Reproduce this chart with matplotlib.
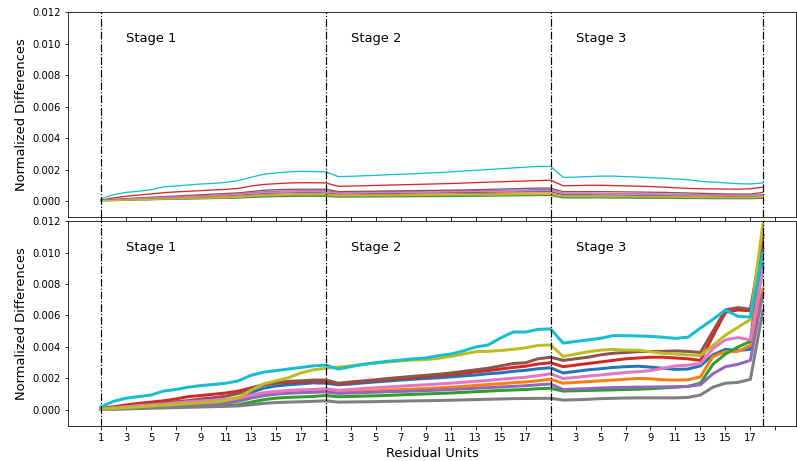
import numpy as np
import matplotlib
matplotlib.use('Agg')
import matplotlib.pyplot as plt
from matplotlib.ticker import FormatStrFormatter

# values are in units of 1e-3, one per residual unit (3 stages x 18 units)
stage_names = ['Stage 1', 'Stage 2', 'Stage 3']
stage_starts = [0, 18, 36]
tick_labels = [str(k) for k in range(1, 18, 2)] * 3 + ['']

# upper panel (thin lines)
top_blue = [0.03, 0.06, 0.09, 0.12, 0.15, 0.18, 0.21, 0.24, 0.27, 0.3, 0.33, 0.37, 0.42, 0.47, 0.5, 0.52, 0.53, 0.53,
            0.52, 0.44, 0.45, 0.46, 0.47, 0.48, 0.49, 0.5, 0.51, 0.52, 0.53, 0.54, 0.55, 0.56, 0.57, 0.58, 0.59, 0.6,
            0.6, 0.4, 0.4, 0.4, 0.39, 0.38, 0.37, 0.36, 0.35, 0.34, 0.33, 0.32, 0.31, 0.3, 0.3, 0.29, 0.29, 0.33]
top_orange = [0.03, 0.05, 0.08, 0.11, 0.13, 0.16, 0.19, 0.21, 0.24, 0.26, 0.29, 0.32, 0.37, 0.41, 0.44, 0.45, 0.46, 0.46,
              0.45, 0.38, 0.39, 0.4, 0.41, 0.42, 0.43, 0.43, 0.44, 0.45, 0.46, 0.47, 0.47, 0.48, 0.49, 0.5, 0.5, 0.51,
              0.51, 0.33, 0.33, 0.33, 0.32, 0.32, 0.31, 0.3, 0.3, 0.29, 0.28, 0.27, 0.27, 0.26, 0.25, 0.25, 0.25, 0.28]
top_green = [0.02, 0.03, 0.05, 0.07, 0.08, 0.1, 0.11, 0.13, 0.14, 0.16, 0.17, 0.19, 0.23, 0.26, 0.28, 0.29, 0.3, 0.3,
             0.3, 0.25, 0.25, 0.26, 0.26, 0.27, 0.27, 0.28, 0.28, 0.29, 0.29, 0.3, 0.3, 0.31, 0.32, 0.33, 0.34, 0.35,
             0.35, 0.2, 0.2, 0.2, 0.2, 0.19, 0.19, 0.18, 0.18, 0.17, 0.17, 0.16, 0.16, 0.15, 0.15, 0.15, 0.15, 0.17]
top_red = [0.05, 0.2, 0.3, 0.38, 0.45, 0.53, 0.58, 0.62, 0.66, 0.7, 0.74, 0.8, 0.95, 1.05, 1.1, 1.14, 1.16, 1.16,
           1.15, 0.93, 0.95, 0.97, 0.99, 1.01, 1.03, 1.05, 1.07, 1.09, 1.11, 1.14, 1.17, 1.2, 1.22, 1.25, 1.27, 1.3,
           1.32, 0.97, 0.98, 1.0, 1.0, 0.98, 0.96, 0.94, 0.92, 0.88, 0.84, 0.8, 0.78, 0.77, 0.76, 0.75, 0.78, 0.88]
top_purple = [0.04, 0.08, 0.12, 0.16, 0.2, 0.24, 0.28, 0.31, 0.34, 0.37, 0.4, 0.44, 0.52, 0.58, 0.62, 0.64, 0.65, 0.65,
              0.65, 0.55, 0.56, 0.57, 0.58, 0.59, 0.6, 0.61, 0.62, 0.63, 0.64, 0.65, 0.66, 0.67, 0.68, 0.69, 0.7, 0.72,
              0.72, 0.5, 0.5, 0.5, 0.49, 0.48, 0.47, 0.46, 0.45, 0.44, 0.43, 0.42, 0.41, 0.4, 0.39, 0.38, 0.38, 0.42]
top_brown = [0.05, 0.1, 0.15, 0.2, 0.24, 0.28, 0.32, 0.36, 0.4, 0.44, 0.48, 0.52, 0.6, 0.68, 0.72, 0.74, 0.75, 0.75,
             0.75, 0.6, 0.61, 0.62, 0.63, 0.64, 0.65, 0.66, 0.67, 0.68, 0.69, 0.7, 0.72, 0.74, 0.76, 0.78, 0.8, 0.82,
             0.82, 0.6, 0.6, 0.6, 0.6, 0.59, 0.58, 0.57, 0.56, 0.55, 0.53, 0.51, 0.49, 0.47, 0.45, 0.44, 0.44, 0.55]
top_pink = [0.04, 0.07, 0.11, 0.15, 0.19, 0.22, 0.26, 0.29, 0.32, 0.35, 0.38, 0.42, 0.48, 0.53, 0.56, 0.58, 0.59, 0.59,
            0.58, 0.5, 0.51, 0.52, 0.53, 0.54, 0.55, 0.56, 0.57, 0.58, 0.59, 0.6, 0.61, 0.62, 0.63, 0.64, 0.65, 0.66,
            0.66, 0.47, 0.47, 0.47, 0.46, 0.45, 0.44, 0.43, 0.42, 0.41, 0.4, 0.39, 0.38, 0.37, 0.36, 0.35, 0.35, 0.4]
top_gray = [0.02, 0.04, 0.06, 0.08, 0.1, 0.12, 0.13, 0.15, 0.17, 0.19, 0.2, 0.23, 0.27, 0.31, 0.33, 0.34, 0.35, 0.35,
            0.35, 0.3, 0.3, 0.31, 0.31, 0.32, 0.33, 0.33, 0.34, 0.35, 0.35, 0.36, 0.37, 0.37, 0.38, 0.39, 0.4, 0.4,
            0.4, 0.25, 0.25, 0.25, 0.24, 0.24, 0.23, 0.22, 0.22, 0.21, 0.2, 0.2, 0.19, 0.19, 0.18, 0.18, 0.18, 0.2]
top_olive = [0.02, 0.04, 0.06, 0.08, 0.1, 0.12, 0.14, 0.16, 0.18, 0.2, 0.22, 0.25, 0.3, 0.35, 0.38, 0.39, 0.4, 0.4,
             0.4, 0.33, 0.34, 0.34, 0.35, 0.35, 0.36, 0.36, 0.37, 0.37, 0.38, 0.38, 0.39, 0.39, 0.4, 0.41, 0.42, 0.42,
             0.42, 0.29, 0.29, 0.29, 0.28, 0.28, 0.27, 0.27, 0.26, 0.25, 0.25, 0.24, 0.23, 0.23, 0.22, 0.22, 0.22, 0.25]
top_cyan = [0.15, 0.4, 0.55, 0.62, 0.72, 0.9, 0.95, 1.02, 1.08, 1.12, 1.18, 1.3, 1.5, 1.7, 1.78, 1.85, 1.88, 1.87,
            1.85, 1.55, 1.57, 1.6, 1.63, 1.67, 1.7, 1.73, 1.77, 1.8, 1.85, 1.9, 1.95, 2.0, 2.05, 2.1, 2.15, 2.2,
            2.2, 1.5, 1.52, 1.55, 1.58, 1.58, 1.55, 1.52, 1.48, 1.45, 1.4, 1.35, 1.25, 1.2, 1.15, 1.1, 1.08, 1.15]

# lower panel (thick lines)
bot_blue = [0.08, 0.12, 0.17, 0.22, 0.27, 0.32, 0.38, 0.44, 0.5, 0.55, 0.62, 0.75, 1.1, 1.38, 1.52, 1.6, 1.66, 1.72,
            1.7, 1.6, 1.65, 1.72, 1.78, 1.84, 1.9, 1.95, 2.0, 2.04, 2.1, 2.16, 2.22, 2.3, 2.36, 2.45, 2.52, 2.62,
            2.68, 2.35, 2.45, 2.55, 2.62, 2.7, 2.75, 2.78, 2.72, 2.65, 2.58, 2.6, 2.8, 3.5, 3.85, 3.78, 3.85, 9.3]
bot_orange = [0.06, 0.1, 0.15, 0.2, 0.25, 0.3, 0.35, 0.4, 0.45, 0.5, 0.55, 0.65, 0.85, 1.0, 1.08, 1.14, 1.18, 1.2,
              1.22, 1.1, 1.14, 1.18, 1.22, 1.26, 1.3, 1.33, 1.36, 1.4, 1.45, 1.5, 1.56, 1.62, 1.67, 1.73, 1.78, 1.86,
              1.95, 1.7, 1.75, 1.8, 1.85, 1.9, 1.95, 2.0, 1.98, 1.92, 1.9, 1.92, 2.1, 3.4, 3.7, 3.72, 4.1, 7.7]
bot_green = [0.04, 0.06, 0.09, 0.12, 0.15, 0.18, 0.2, 0.22, 0.25, 0.28, 0.3, 0.33, 0.5, 0.65, 0.75, 0.8, 0.83, 0.86,
             0.92, 0.84, 0.86, 0.88, 0.9, 0.93, 0.96, 0.99, 1.02, 1.05, 1.08, 1.12, 1.16, 1.2, 1.24, 1.27, 1.3, 1.35,
             1.38, 1.2, 1.22, 1.24, 1.26, 1.28, 1.3, 1.32, 1.35, 1.4, 1.45, 1.5, 1.7, 2.9, 3.55, 4.0, 4.35, 11.0]
bot_red = [0.1, 0.2, 0.32, 0.42, 0.5, 0.58, 0.7, 0.85, 0.92, 1.0, 1.08, 1.2, 1.4, 1.6, 1.7, 1.75, 1.78, 1.82,
           1.8, 1.65, 1.72, 1.8, 1.87, 1.93, 2.0, 2.06, 2.12, 2.18, 2.25, 2.33, 2.42, 2.5, 2.6, 2.7, 2.78, 2.92,
           3.0, 2.75, 2.85, 2.95, 3.05, 3.15, 3.25, 3.3, 3.35, 3.35, 3.3, 3.25, 3.15, 4.7, 6.2, 6.35, 6.3, 11.1]
bot_purple = [0.05, 0.08, 0.12, 0.16, 0.2, 0.24, 0.28, 0.32, 0.36, 0.4, 0.45, 0.55, 0.75, 0.9, 1.0, 1.06, 1.1, 1.12,
              1.15, 1.05, 1.08, 1.1, 1.13, 1.16, 1.18, 1.2, 1.23, 1.26, 1.3, 1.34, 1.38, 1.42, 1.46, 1.5, 1.54, 1.6,
              1.65, 1.3, 1.33, 1.36, 1.4, 1.42, 1.44, 1.45, 1.46, 1.47, 1.48, 1.5, 1.6, 2.3, 2.75, 2.9, 3.15, 7.4]
bot_brown = [0.1, 0.15, 0.22, 0.3, 0.38, 0.45, 0.52, 0.6, 0.7, 0.78, 0.88, 1.05, 1.3, 1.6, 1.75, 1.82, 1.85, 1.9,
             1.9, 1.7, 1.78, 1.85, 1.92, 2.0, 2.07, 2.14, 2.2, 2.27, 2.35, 2.45, 2.55, 2.65, 2.8, 2.95, 3.0, 3.25,
             3.35, 3.15, 3.25, 3.35, 3.5, 3.6, 3.65, 3.7, 3.72, 3.72, 3.75, 3.72, 3.65, 5.0, 6.35, 6.5, 6.4, 10.2]
bot_pink = [0.08, 0.13, 0.2, 0.28, 0.33, 0.38, 0.45, 0.52, 0.57, 0.62, 0.68, 0.78, 0.95, 1.1, 1.18, 1.24, 1.28, 1.3,
            1.35, 1.25, 1.3, 1.36, 1.41, 1.46, 1.51, 1.56, 1.6, 1.65, 1.7, 1.76, 1.82, 1.88, 1.95, 2.02, 2.08, 2.18,
            2.3, 2.0, 2.07, 2.15, 2.22, 2.3, 2.38, 2.43, 2.5, 2.65, 2.8, 2.85, 2.95, 3.9, 4.45, 4.6, 4.45, 9.0]
bot_gray = [0.03, 0.05, 0.07, 0.09, 0.11, 0.13, 0.15, 0.17, 0.19, 0.21, 0.23, 0.26, 0.33, 0.42, 0.47, 0.5, 0.52, 0.55,
            0.58, 0.5, 0.51, 0.52, 0.53, 0.55, 0.56, 0.58, 0.59, 0.6, 0.62, 0.64, 0.66, 0.68, 0.7, 0.72, 0.73, 0.74,
            0.74, 0.63, 0.65, 0.68, 0.72, 0.74, 0.76, 0.77, 0.77, 0.77, 0.77, 0.8, 0.95, 1.45, 1.7, 1.75, 1.95, 6.3]
bot_olive = [0.05, 0.1, 0.15, 0.2, 0.25, 0.3, 0.35, 0.4, 0.45, 0.5, 0.6, 0.8, 1.25, 1.65, 1.85, 2.05, 2.35, 2.55,
             2.65, 2.72, 2.8, 2.9, 2.98, 3.05, 3.12, 3.17, 3.2, 3.28, 3.4, 3.55, 3.7, 3.72, 3.78, 3.85, 3.95, 4.1,
             4.13, 3.4, 3.55, 3.7, 3.8, 3.85, 3.8, 3.8, 3.7, 3.6, 3.55, 3.5, 3.45, 4.1, 4.75, 5.25, 5.75, 11.8]
bot_cyan = [0.2, 0.55, 0.75, 0.85, 0.95, 1.2, 1.3, 1.45, 1.55, 1.62, 1.7, 1.85, 2.2, 2.4, 2.5, 2.6, 2.7, 2.8,
            2.85, 2.6, 2.75, 2.9, 3.0, 3.1, 3.17, 3.25, 3.3, 3.45, 3.55, 3.75, 4.0, 4.13, 4.57, 4.95, 4.95, 5.12,
            5.15, 4.25, 4.35, 4.45, 4.55, 4.72, 4.72, 4.7, 4.68, 4.62, 4.55, 4.62, 5.2, 5.75, 6.35, 5.95, 5.9, 9.95]

top_series = [top_blue, top_orange, top_green, top_red, top_purple,
              top_brown, top_pink, top_gray, top_olive, top_cyan]
bot_series = [bot_blue, bot_orange, bot_green, bot_red, bot_purple,
              bot_brown, bot_pink, bot_gray, bot_olive, bot_cyan]

units = np.arange(len(bot_blue))

fig = plt.figure(figsize=(797 / 72, 461 / 72), dpi=72)
ax_top = fig.add_axes([0.0853, 0.5298, 0.9134, 0.4441])
ax_bot = fig.add_axes([0.0853, 0.0765, 0.9134, 0.4441])

for ax, series, lw in ((ax_top, top_series, 1.3), (ax_bot, bot_series, 3)):
    for s in series:
        ax.plot(units, np.array(s) * 1e-3, lw=lw)
    for x in stage_starts + [units[-1]]:
        ax.axvline(x, color='k', ls='-.', lw=1.2)
    for x, name in zip(stage_starts, stage_names):
        ax.text(x + 2, 0.0103, name, fontsize=13, va='center')
    ax.set_ylim(-0.001, 0.012)
    ax.set_xlim(-2.65, 55.65)
    ax.set_xticks(range(0, 55, 2))
    ax.set_yticks(np.arange(0, 0.0121, 0.002))
    ax.yaxis.set_major_formatter(FormatStrFormatter('%.3f'))
    ax.set_ylabel('Normalized Differences', fontsize=13)
    ax.tick_params(labelsize=10)

ax_top.set_xticklabels([])
ax_bot.set_xticklabels(tick_labels)
ax_bot.set_xlabel('Residual Units', fontsize=13)

fig.savefig('out.png', dpi=72)
